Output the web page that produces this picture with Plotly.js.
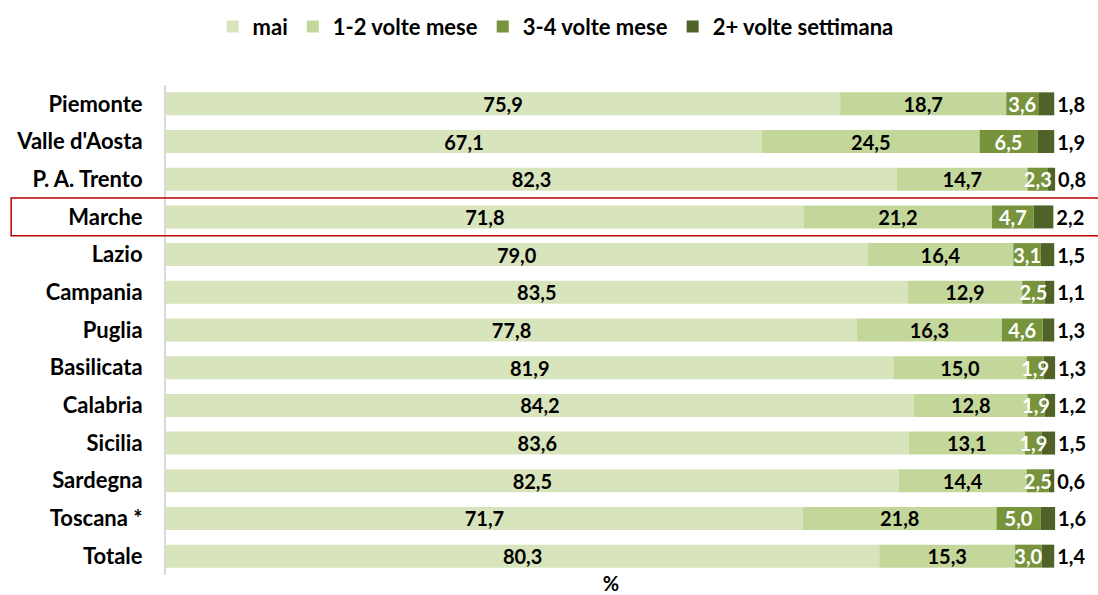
<!DOCTYPE html>
<html>
<head>
<meta charset="utf-8">
<script src="https://cdn.plot.ly/plotly-3.0.1.min.js"></script>
<style>html,body{margin:0;padding:0;background:#fff;}#chart{width:1098px;height:595px;}</style>
</head>
<body>
<div id="chart"></div>
<script>
const categories = ["Piemonte","Valle d'Aosta","P. A. Trento","Marche","Lazio","Campania","Puglia","Basilicata","Calabria","Sicilia","Sardegna","Toscana *","Totale"];
const seriesNames = ["mai","1-2 volte mese","3-4 volte mese","2+ volte settimana"];
const mai       = [75.9,67.1,82.3,71.8,79.0,83.5,77.8,81.9,84.2,83.6,82.5,71.7,80.3];
const volte12   = [18.7,24.5,14.7,21.2,16.4,12.9,16.3,15.0,12.8,13.1,14.4,21.8,15.3];
const volte34   = [3.6,6.5,2.3,4.7,3.1,2.5,4.6,1.9,1.9,1.9,2.5,5.0,3.0];
const settimana = [1.8,1.9,0.8,2.2,1.5,1.1,1.3,1.3,1.2,1.5,0.6,1.6,1.4];
const highlighted = "Marche";

const colors = ["#d8e4bc","#c4d79b","#77933c","#4f6228"];
const textColors = ["#000000","#000000","#ffffff","#000000"];
const fmt = v => v.toFixed(1).replace('.', ',');
const FONT = "Lato, 'Open Sans', sans-serif";
const VAL_SIZE = 20;
const LBL_SIZE = 22;

const allSeries = [mai, volte12, volte34, settimana];
// cumulative bases so each segment starts where the previous one ends
const bases = allSeries.map((_, k) => categories.map((c, i) => {
  let s = 0; for (let j = 0; j < k; j++) s += allSeries[j][i]; return s;
}));

function makeTrace(k) {
  const vals = allSeries[k];
  return {
    type: 'bar',
    orientation: 'h',
    name: seriesNames[k],
    legendrank: k + 1,
    y: categories,
    x: vals,
    base: bases[k],
    marker: {color: colors[k], line: {width: 0}},
    text: vals.map(fmt),
    textposition: k === 3 ? 'outside' : 'inside',
    insidetextanchor: 'middle',
    textangle: 0,
    constraintext: 'none',
    cliponaxis: false,
    textfont: {family: FONT, size: VAL_SIZE, weight: 'bold', color: textColors[k]},
    insidetextfont: {family: FONT, size: VAL_SIZE, weight: 'bold', color: textColors[k]},
    outsidetextfont: {family: FONT, size: VAL_SIZE, weight: 'bold', color: '#000000'},
    hoverinfo: 'skip'
  };
}
// draw the darkest segment before the 3-4 segment so its white labels stay on top
const traces = [makeTrace(0), makeTrace(1), makeTrace(3), makeTrace(2)];

const idx = categories.indexOf(highlighted);
const n = categories.length;

const layout = {
  width: 1098,
  height: 595,
  margin: {l: 166, r: 42, t: 85, b: 20},
  barmode: 'overlay',
  bargap: 0.39,
  paper_bgcolor: '#ffffff',
  plot_bgcolor: '#ffffff',
  font: {family: FONT, size: LBL_SIZE, color: '#000000', weight: 'bold'},
  uniformtext: {mode: 'show', minsize: VAL_SIZE},
  showlegend: true,
  legend: {
    orientation: 'h',
    xref: 'container', yref: 'container',
    x: 0.506, xanchor: 'center',
    y: 0.955, yanchor: 'middle',
    font: {family: FONT, size: LBL_SIZE, weight: 'bold', color: '#000000'},
    itemsizing: 'constant',
    itemwidth: 30,
    tracegroupgap: 0
  },
  xaxis: {
    range: [0, 100.2],
    showticklabels: false,
    showgrid: false,
    zeroline: false,
    showline: false,
    ticks: '',
    fixedrange: true,
    title: {text: '%', standoff: 6, font: {family: FONT, size: 20, weight: 'bold', color: '#000000'}}
  },
  yaxis: {
    autorange: 'reversed',
    showline: true,
    linecolor: '#d9d9d9',
    linewidth: 2,
    showgrid: false,
    zeroline: false,
    ticks: '',
    ticklabelstandoff: 17,
    tickfont: {family: FONT, size: LBL_SIZE, weight: 'bold', color: '#000000'},
    fixedrange: true
  },
  shapes: [{
    type: 'rect',
    xref: 'paper', yref: 'paper',
    x0: -0.174, x1: 1.06,
    y0: 1 - (idx + 1) / n, y1: 1 - idx / n,
    line: {color: '#c00000', width: 1.5},
    fillcolor: 'rgba(0,0,0,0)'
  }]
};

Plotly.newPlot('chart', traces, layout, {displayModeBar: false, staticPlot: true});
</script>
</body>
</html>
